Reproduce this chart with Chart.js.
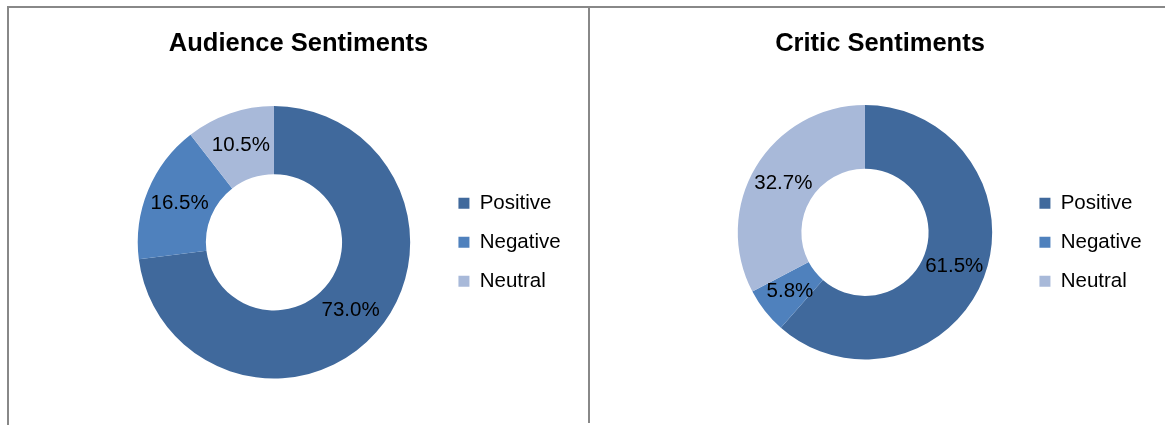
<!DOCTYPE html>
<html>
<head>
<meta charset="utf-8">
<script src="https://cdn.jsdelivr.net/npm/chart.js@4/dist/chart.umd.min.js"></script>
<style>
  html, body { margin: 0; padding: 0; background: #fff; overflow: hidden; }
  body { width: 1165px; height: 425px; position: relative; }
  .frame { position: absolute; left: 7px; top: 6px; width: 1170px; height: 417px;
           border-top: 2px solid #888; border-left: 2px solid #888; }
  .divider { position: absolute; left: 588px; top: 6px; width: 2px; height: 417px; background: #888; }
  canvas { position: absolute; top: 8px; }
  #audienceChart { left: 9px; }
  #criticChart { left: 590px; }
</style>
</head>
<body>
<div class="frame"></div>
<div class="divider"></div>
<canvas id="audienceChart" width="579" height="417"></canvas>
<canvas id="criticChart" width="580" height="417"></canvas>
<script>
const categories = ["Positive", "Negative", "Neutral"];
const audienceValues = [73.0, 16.5, 10.5];
const criticValues = [61.5, 5.8, 32.7];
const sliceColors = ["#40699C", "#4F81BD", "#A8B9D9"];

Chart.defaults.font.family = '"Liberation Sans", Arial, sans-serif';
Chart.defaults.color = "#000";

// percent labels in the middle of each ring segment
const pctLabels = {
  id: "pctLabels",
  afterDatasetsDraw(chart) {
    const ctx = chart.ctx;
    const values = chart.data.datasets[0].data;
    ctx.save();
    ctx.font = '20.5px "Liberation Sans", Arial, sans-serif';
    ctx.fillStyle = "#000";
    ctx.textAlign = "center";
    ctx.textBaseline = "middle";
    chart.getDatasetMeta(0).data.forEach((arc, i) => {
      const p = arc.tooltipPosition();
      ctx.fillText(values[i].toFixed(1) + "%", p.x, p.y);
    });
    ctx.restore();
  }
};

function initDonut(id, title, values, opts) {
  const el = document.getElementById(id);
  if (!el) return;

  new Chart(el, {
    type: "doughnut",
    data: {
      labels: categories,
      datasets: [{
        data: values,
        backgroundColor: sliceColors,
        borderWidth: 0,
        hoverOffset: 0
      }]
    },
    options: {
      responsive: false,
      animation: false,
      events: [],
      cutout: "50%",
      layout: { padding: opts.padding },
      plugins: {
        title: {
          display: true,
          text: title,
          color: "#000",
          font: { size: 25.5, weight: "bold" },
          padding: { top: 21, bottom: opts.titleGap }
        },
        // empty box on the left, only to push the ring under the title like Excel does
        subtitle: {
          display: true,
          position: "left",
          text: "",
          font: { size: 10, lineHeight: 1 },
          padding: { top: opts.leftGap - 10, bottom: 0 }
        },
        legend: {
          position: "right",
          fullSize: false,
          title: { display: opts.legendShift > 0, text: " ", font: { size: opts.legendShift, lineHeight: 1 }, padding: 0 },
          labels: {
            boxWidth: 11,
            boxHeight: 11,
            padding: 18.5,
            color: "#000",
            font: { size: 20.5 }
          }
        },
        tooltip: { enabled: false }
      }
    },
    plugins: [pctLabels]
  });
}

document.addEventListener("DOMContentLoaded", () => {
  initDonut("audienceChart", "Audience Sentiments", audienceValues, {
    padding: { left: 17.4, right: 17.4, top: 0, bottom: 46.5 },
    titleGap: 46.5,
    leftGap: 81.6,
    legendShift: 0
  });
  initDonut("criticChart", "Critic Sentiments", criticValues, {
    padding: { left: 18.4, right: 18.4, top: 0, bottom: 65.5 },
    titleGap: 45.5,
    leftGap: 100.6,
    legendShift: 20
  });
});
</script>
</body>
</html>
